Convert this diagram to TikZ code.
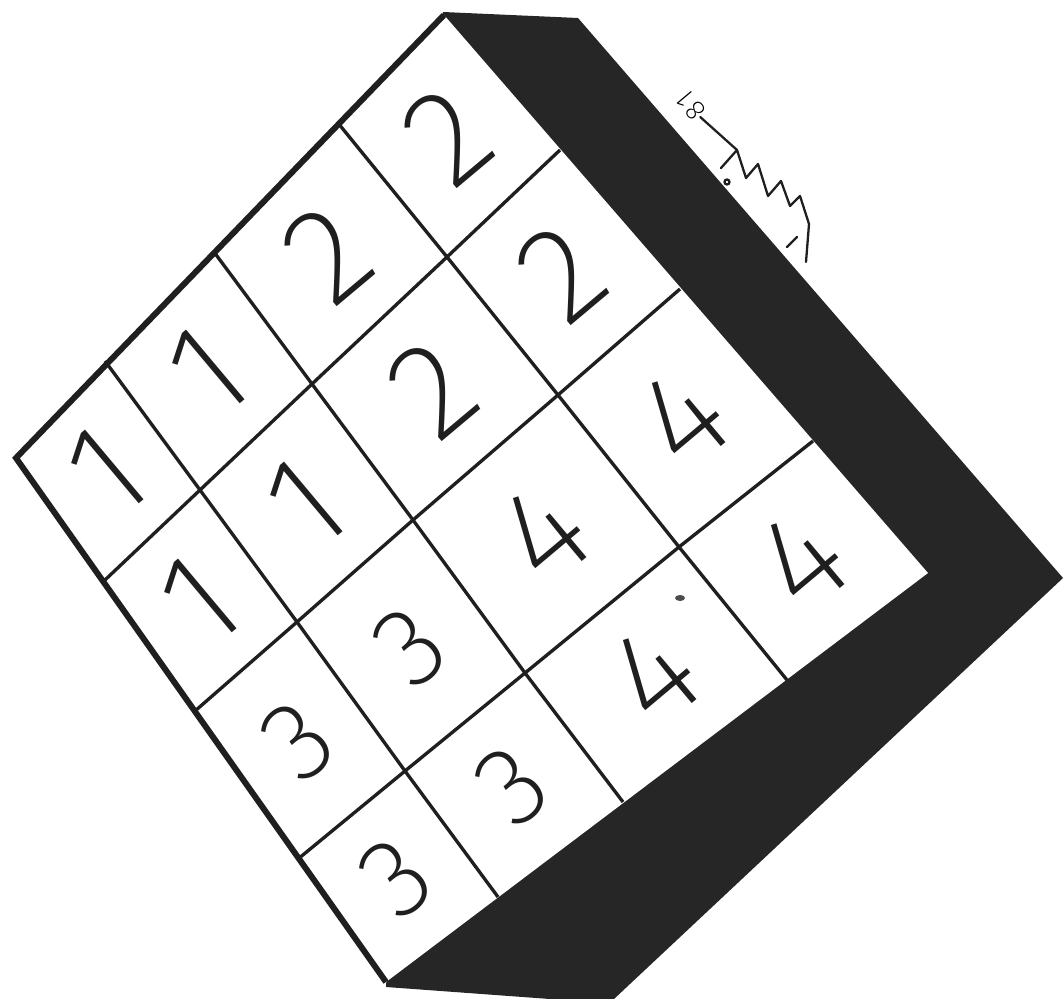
\documentclass[tikz,border=0pt]{standalone}
\usepackage{fontspec}
\newcommand\pickdigitfont[1]{\newfontfamily\digitfont{#1}}
\IfFontExistsTF{Fira Sans ExtraLight}{\pickdigitfont{Fira Sans ExtraLight}}{%
  \IfFontExistsTF{Fira Sans Thin}{\pickdigitfont{Fira Sans Thin}}{%
    \IfFontExistsTF{Fira Sans Light}{\pickdigitfont{Fira Sans Light}}{%
      \pickdigitfont{Fira Sans}}}}
\usetikzlibrary{calc}

\begin{document}
\begin{tikzpicture}[
  x=0.02cm, y=-0.02cm,
  side/.style={fill=black!85},
  face/.style={fill=white},
  gridline/.style={draw=black!88, line width=1.9pt, line join=round},
  rim/.style={draw=black!88, line width=3.4pt, line join=miter},
  digit/.style={font=\digitfont\fontsize{78}{78}\selectfont, text=black!88, rotate=40, inner sep=0pt},
  smalldigit/.style={digit, font=\digitfont\fontsize{64}{64}\selectfont},
  scrawl/.style={draw=black!88, line width=1.3pt, line cap=round, line join=round},
]
  \useasboundingbox (0,0) rectangle (1064,999);

  % grid points, p<i><j>: i along the upper right edge, j along the upper left edge
  \coordinate (p00) at (444,15);
  \coordinate (p10) at (560,150);
  \coordinate (p20) at (680,289);
  \coordinate (p30) at (813,441);
  \coordinate (p40) at (928,573);
  \coordinate (p01) at (338,123);
  \coordinate (p11) at (447,257);
  \coordinate (p21) at (558,395);
  \coordinate (p31) at (679,547);
  \coordinate (p41) at (787,680);
  \coordinate (p02) at (214,252);
  \coordinate (p12) at (312,384);
  \coordinate (p22) at (413,520);
  \coordinate (p32) at (525,673);
  \coordinate (p42) at (623,802);
  \coordinate (p03) at (105,361);
  \coordinate (p13) at (200,490);
  \coordinate (p23) at (297,622);
  \coordinate (p33) at (405,771);
  \coordinate (p43) at (498,897);
  \coordinate (p04) at (16,458);
  \coordinate (p14) at (105,580);
  \coordinate (p24) at (195,711);
  \coordinate (p34) at (298,859);
  \coordinate (p44) at (386,982);

  % thickness of the block
  \fill[side] (443,12) -- (578,18) -- (1063,578) -- (614,999) -- (550,999) -- (386,987) -- cycle;
  \fill[face] (p00) -- (p40) -- (p44) -- (p04) -- cycle;

  % cells
  \foreach \i in {1,2,3}
    \draw[gridline] (p\i0) -- (p\i1) -- (p\i2) -- (p\i3) -- (p\i4);
  \foreach \j in {1,2,3}
    \draw[gridline] (p0\j) -- (p1\j) -- (p2\j) -- (p3\j) -- (p4\j);
  \draw[rim] (p00) -- (p04) -- (p44);

  % numbers
  \node[digit] (n00) at (barycentric cs:p00=1,p10=1,p11=1,p01=1) {2};
  \node[digit] (n10) at (barycentric cs:p10=1,p20=1,p21=1,p11=1) {2};
  \node[digit] (n20) at (barycentric cs:p20=1,p30=1,p31=1,p21=1) {4};
  \node[digit] (n30) at (barycentric cs:p30=1,p40=1,p41=1,p31=1) {4};
  \node[digit] (n01) at (barycentric cs:p01=1,p11=1,p12=1,p02=1) {2};
  \node[digit] (n11) at (barycentric cs:p11=1,p21=1,p22=1,p12=1) {2};
  \node[digit] (n21) at (barycentric cs:p21=1,p31=1,p32=1,p22=1) {4};
  \node[digit] (n31) at (barycentric cs:p31=1,p41=1,p42=1,p32=1) {4};
  \node[digit] (n02) at (barycentric cs:p02=1,p12=1,p13=1,p03=1) {1};
  \node[digit] (n12) at (barycentric cs:p12=1,p22=1,p23=1,p13=1) {1};
  \node[smalldigit] (n22) at (barycentric cs:p22=1,p32=1,p33=1,p23=1) {3};
  \node[smalldigit] (n32) at (barycentric cs:p32=1,p42=1,p43=1,p33=1) {3};
  \node[digit] (n03) at (barycentric cs:p03=1,p13=1,p14=1,p04=1) {1};
  \node[digit] (n13) at (barycentric cs:p13=1,p23=1,p24=1,p14=1) {1};
  \node[smalldigit] (n23) at (barycentric cs:p23=1,p33=1,p34=1,p24=1) {3};
  \node[smalldigit] (n33) at (barycentric cs:p33=1,p43=1,p44=1,p34=1) {3};

  % speck on the face
  \fill[black!70] (680,598) ellipse (5 and 3);

  % signature
  \node[font=\digitfont\fontsize{16}{16}\selectfont, rotate=130, inner sep=0pt] (year) at (691,106) {8\kern1pt 1};
  \coordinate (dashend) at (737,150);
  \draw[scrawl] (year.west) -- (dashend);
  \draw[scrawl] (721,168) -- (dashend) -- (746,178) -- (758,164) -- (768,196)
    -- (781,181) -- (790,206) -- (800,196) -- (809,224) -- (806,262);
  \draw[scrawl] (797,237) -- (787,247);
  \draw[scrawl] (727,182) circle (2.5);
\end{tikzpicture}
\end{document}
